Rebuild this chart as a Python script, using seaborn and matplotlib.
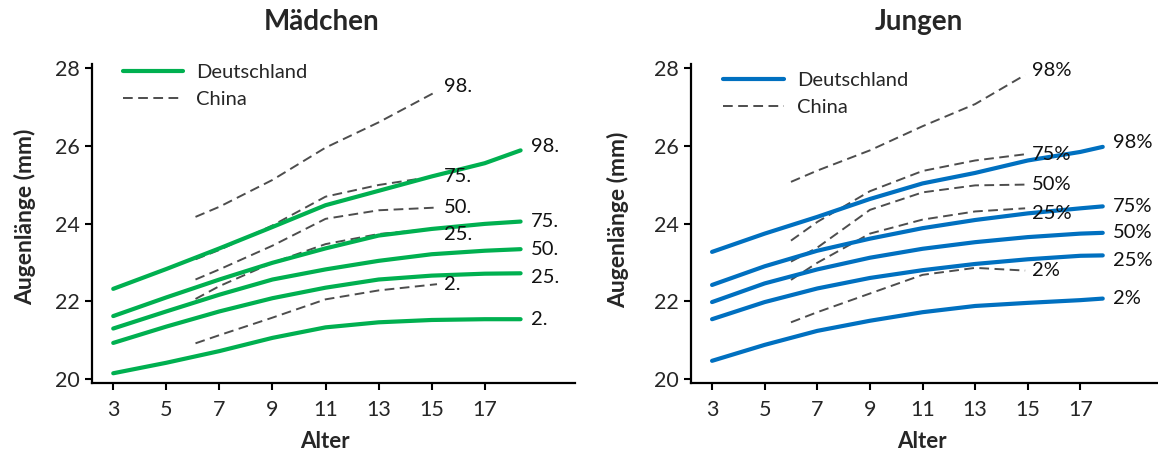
import matplotlib
matplotlib.use("Agg")
import matplotlib.pyplot as plt
from matplotlib.lines import Line2D
import seaborn as sns

# ---- data: axial eye length (mm) by age, percentile curves ----
percentiles = ["98", "75", "50", "25", "2"]

# girls, Germany
ages_de_f = [3, 5, 7, 9, 11, 13, 15, 17, 18.35]
de_f = {
    "98": [22.32, 22.83, 23.36, 23.91, 24.47, 24.84, 25.21, 25.55, 25.88],
    "75": [21.62, 22.10, 22.56, 22.99, 23.36, 23.69, 23.86, 23.99, 24.05],
    "50": [21.30, 21.74, 22.17, 22.56, 22.82, 23.04, 23.21, 23.30, 23.34],
    "25": [20.93, 21.35, 21.74, 22.08, 22.35, 22.56, 22.66, 22.71, 22.72],
    "2":  [20.15, 20.42, 20.72, 21.06, 21.33, 21.46, 21.52, 21.54, 21.54],
}
# girls, China
ages_cn_f = [6.1, 7, 9, 11, 13, 15.2]
cn_f = {
    "98": [24.17, 24.43, 25.12, 25.95, 26.60, 27.40],
    "75": [23.08, 23.32, 23.95, 24.69, 24.99, 25.22],
    "50": [22.56, 22.82, 23.43, 24.12, 24.34, 24.41],
    "25": [22.06, 22.39, 22.99, 23.47, 23.73, 23.87],
    "2":  [20.92, 21.13, 21.58, 22.05, 22.28, 22.44],
}

# boys, Germany
ages_de_m = [3, 5, 7, 9, 11, 13, 15, 17, 17.85]
de_m = {
    "98": [23.27, 23.74, 24.17, 24.63, 25.03, 25.30, 25.62, 25.84, 25.97],
    "75": [22.42, 22.90, 23.30, 23.61, 23.88, 24.09, 24.26, 24.39, 24.44],
    "50": [21.98, 22.46, 22.82, 23.12, 23.35, 23.52, 23.65, 23.74, 23.76],
    "25": [21.54, 21.98, 22.33, 22.60, 22.80, 22.96, 23.08, 23.17, 23.18],
    "2":  [20.47, 20.88, 21.24, 21.50, 21.72, 21.88, 21.96, 22.03, 22.07],
}
# boys, China
ages_cn_m = [6, 7, 9, 11, 13, 14.9]
cn_m = {
    "98": [25.07, 25.36, 25.88, 26.50, 27.07, 27.82],
    "75": [23.56, 24.04, 24.83, 25.35, 25.62, 25.78],
    "50": [23.02, 23.38, 24.35, 24.80, 24.98, 25.00],
    "25": [22.55, 22.99, 23.74, 24.10, 24.31, 24.39],
    "2":  [21.46, 21.72, 22.20, 22.68, 22.86, 22.79],
}

x_ticks = [3, 5, 7, 9, 11, 13, 15, 17]
y_ticks = [20, 22, 24, 26, 28]

# ---- style ----
sns.set_theme(style="ticks")
plt.rcParams["font.family"] = ["Lato", "DejaVu Sans"]

GREEN = "#00B050"
BLUE = "#0070C0"
GREY = "#4d4d4d"
DASH = (0, (5, 2.8))

# small vertical nudges so the curve labels don't collide
label_nudge = {"98": 0.1, "75": 0.0, "50": 0.0, "25": -0.12, "2": 0.0}

W, H = 1158, 454
fig = plt.figure(figsize=(W / 100, H / 100), dpi=100)


def px_axes(x0, x1, top, bottom):
    return fig.add_axes([x0 / W, 1 - bottom / H, (x1 - x0) / W, (bottom - top) / H])


def draw_panel(ax, ages_de, de, ages_cn, cn, color, suffix, xlim, legend_anchor):
    for p in percentiles:
        sns.lineplot(x=ages_cn, y=cn[p], ax=ax, color=GREY, linewidth=1.4,
                     linestyle=DASH, zorder=2)
        sns.lineplot(x=ages_de, y=de[p], ax=ax, color=color, linewidth=3,
                     solid_capstyle="round", solid_joinstyle="round", zorder=3)
        ax.text(ages_de[-1] + 0.4, de[p][-1] + label_nudge[p], p + suffix,
                fontsize=14.5, va="center", ha="left", color="#111111")
        ax.text(ages_cn[-1] + 0.25, cn[p][-1] + label_nudge[p] * 1.2, p + suffix,
                fontsize=14.5, va="center", ha="left", color="#111111")

    ax.set_xlim(*xlim)
    ax.set_ylim(19.9, 28.1)
    ax.set_xticks(x_ticks)
    ax.set_yticks(y_ticks)
    ax.tick_params(labelsize=15.5, length=5, width=1.5, color="black")
    ax.tick_params(axis="x", pad=7)
    ax.tick_params(axis="y", pad=4)
    for side in ("top", "right"):
        ax.spines[side].set_visible(False)
    for side in ("left", "bottom"):
        ax.spines[side].set_linewidth(1.6)
        ax.spines[side].set_color("black")
    ax.set_xlabel("")
    ax.set_ylabel("")

    handles = [
        Line2D([], [], color=color, linewidth=3),
        Line2D([], [], color=GREY, linewidth=1.4, linestyle=DASH),
    ]
    ax.legend(handles, ["Deutschland", "China"], loc="upper left",
              bbox_to_anchor=legend_anchor, frameon=False, fontsize=14.5,
              handlelength=3.0, handletextpad=0.65, labelspacing=0.5,
              borderpad=0, borderaxespad=0)


ax_f = px_axes(92, 575, 64, 383)
draw_panel(ax_f, ages_de_f, de_f, ages_cn_f, cn_f, GREEN, ".", (2.2, 20.4), (0.064, 1.0))

ax_m = px_axes(691, 1158, 64, 383)
draw_panel(ax_m, ages_de_m, de_m, ages_cn_m, cn_m, BLUE, "%", (2.2, 19.95), (0.069, 0.975))

# titles and axis labels
fig.text(322 / W, 1 - 22 / H, "Mädchen", fontsize=20, fontweight="bold", ha="center", va="center")
fig.text(919 / W, 1 - 22 / H, "Jungen", fontsize=20, fontweight="bold", ha="center", va="center")
fig.text(325 / W, 1 - 441 / H, "Alter", fontsize=16, fontweight="bold", ha="center", va="center")
fig.text(922 / W, 1 - 441 / H, "Alter", fontsize=16, fontweight="bold", ha="center", va="center")
fig.text(25 / W, 1 - 217 / H, "Augenlänge (mm)", fontsize=16.5, fontweight="bold",
         rotation=90, ha="center", va="center")
fig.text(618 / W, 1 - 220 / H, "Augenlänge (mm)", fontsize=16.5, fontweight="bold",
         rotation=90, ha="center", va="center")

fig.savefig("out.png", dpi=100, facecolor="white")
